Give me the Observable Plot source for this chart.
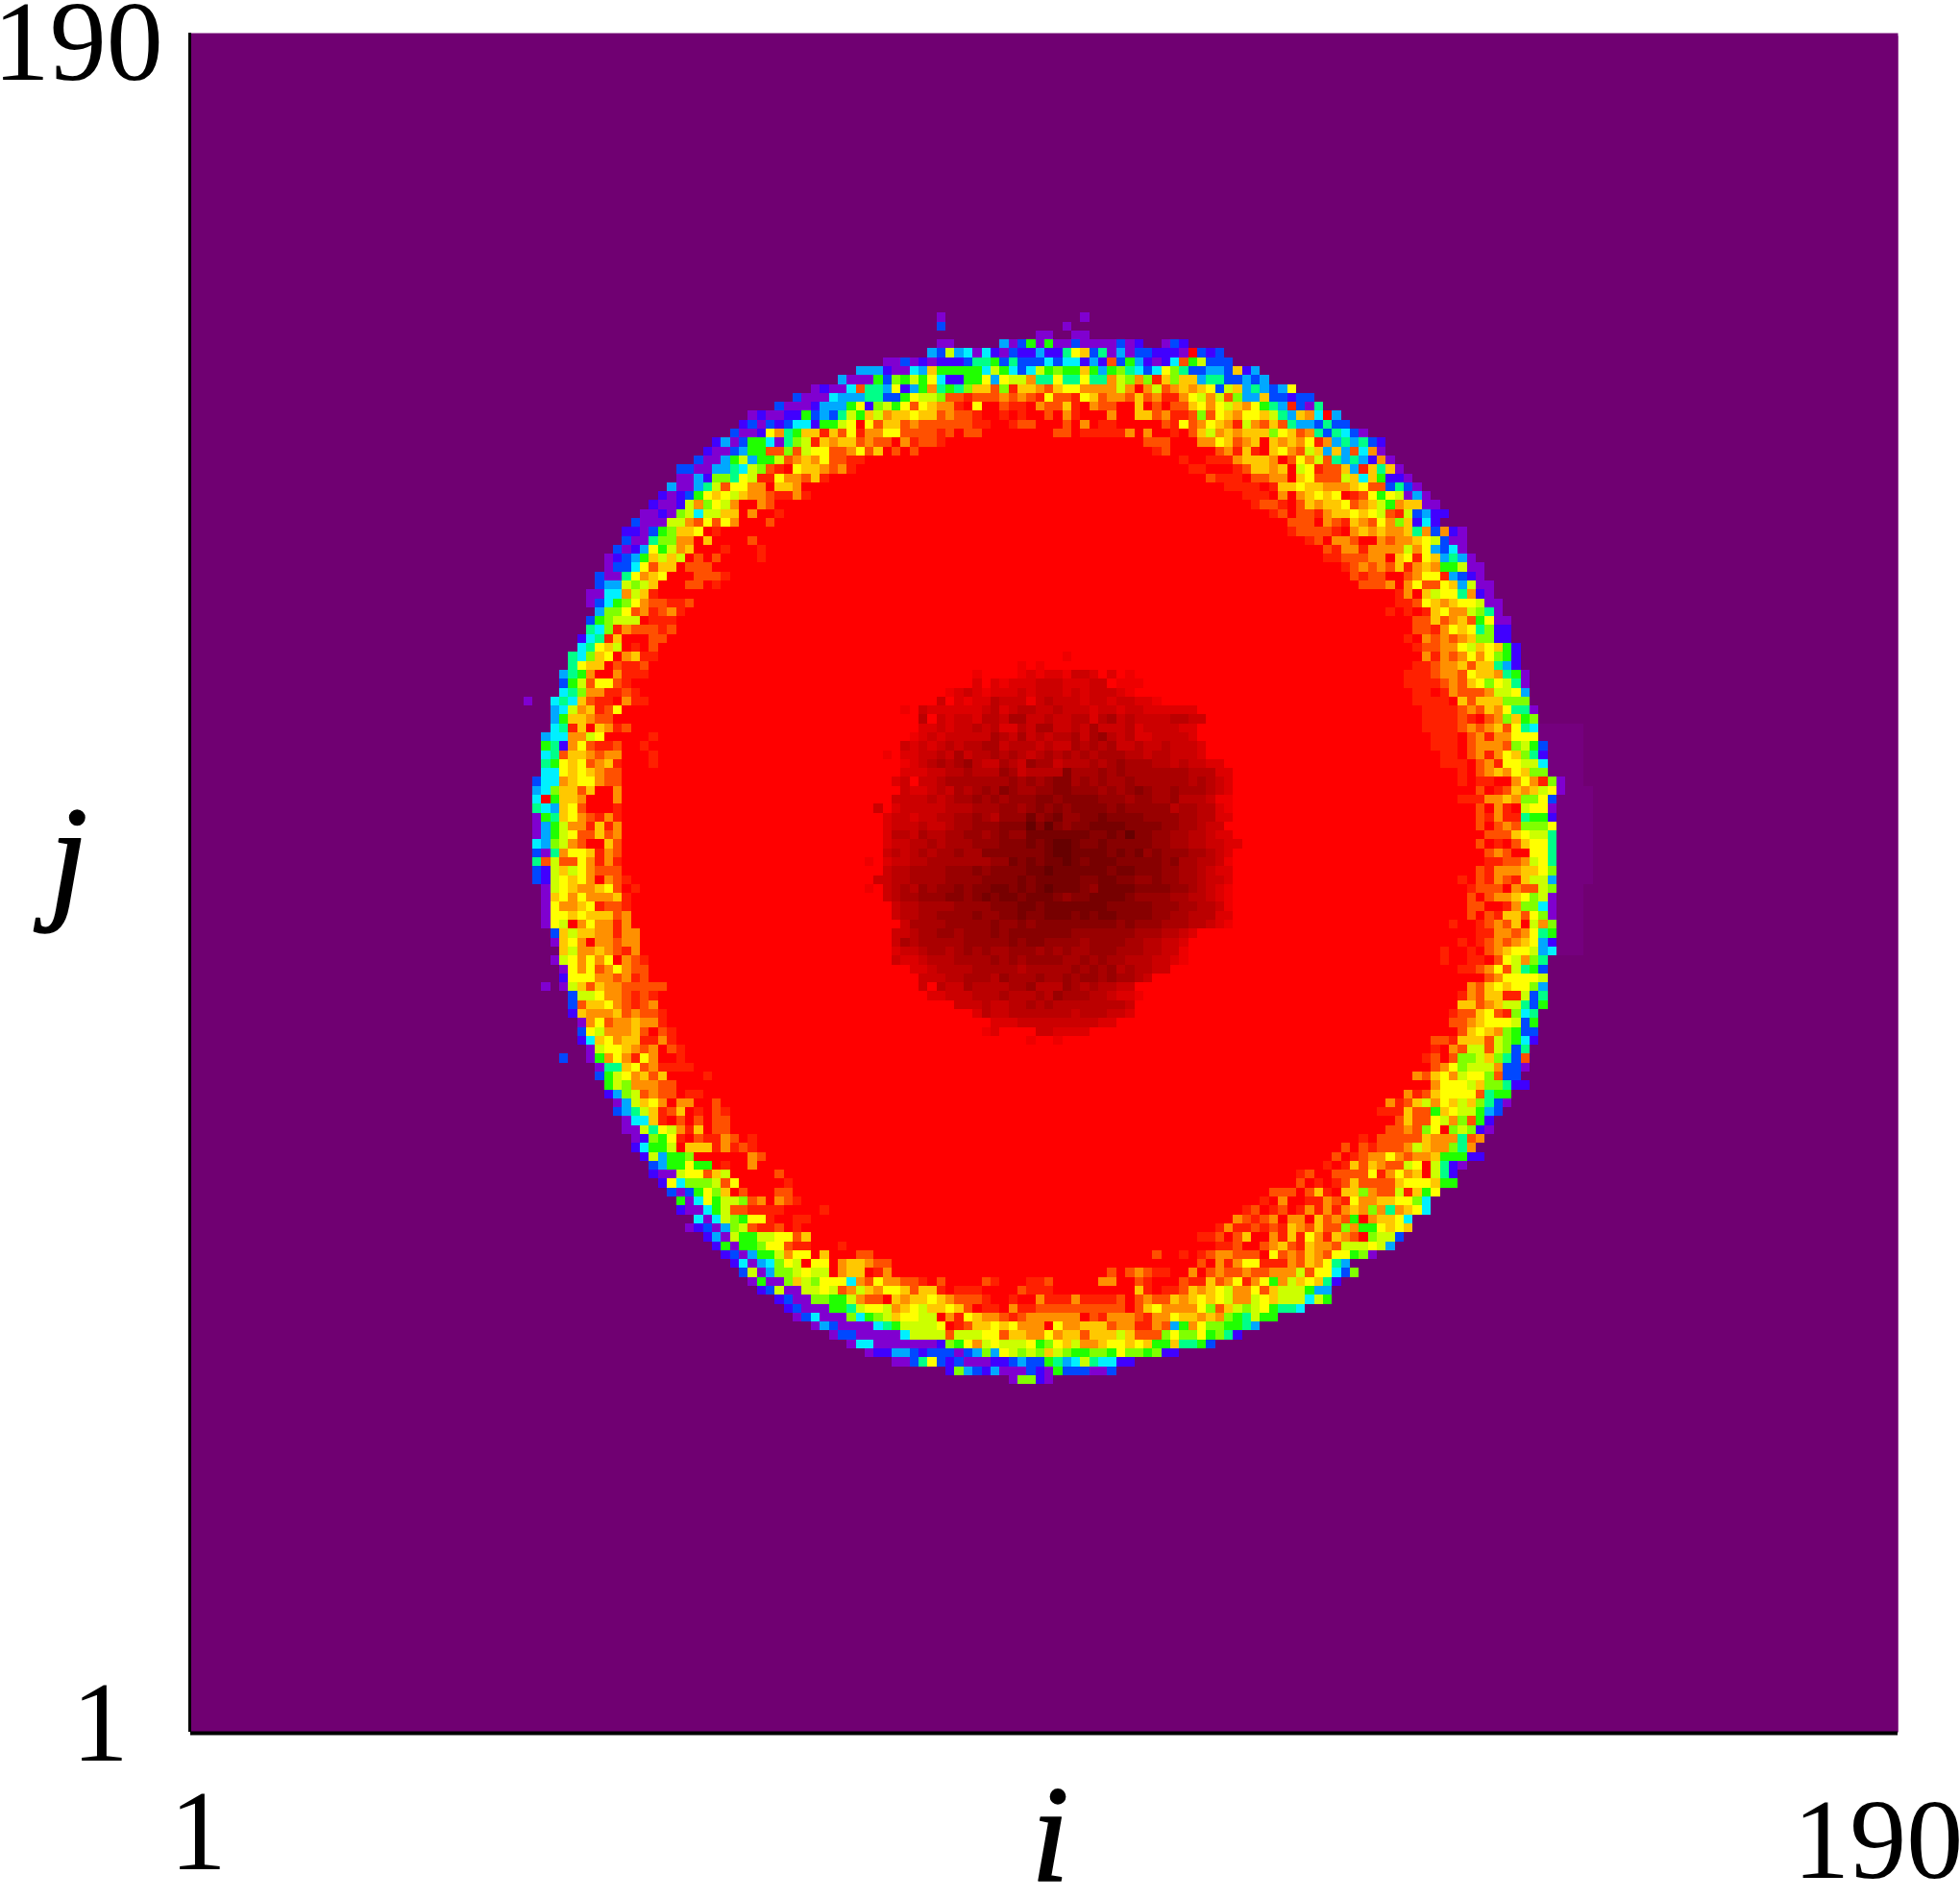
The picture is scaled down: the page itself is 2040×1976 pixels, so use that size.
<!DOCTYPE html>
<html><head><meta charset="utf-8">
<script src="https://cdn.jsdelivr.net/npm/d3@7"></script>
<script src="https://cdn.jsdelivr.net/npm/@observablehq/plot@0.6"></script>
<style>html,body{margin:0;padding:0;background:#fff}svg{display:block}</style>
</head><body><div id="chart"></div>
<script>
// Colour codes
const palette = {
  ".":"#700072", w:"#75007e", v:"#8000d0", u:"#4000ff", b:"#0048ff", a:"#00a8ff", c:"#00f0ff",
  t:"#00ff88", g:"#20ff00", l:"#80ff00", i:"#ccff00", y:"#ffff00", o:"#ffc800",
  n:"#ff9000", h:"#ff5000", e:"#ff2000", r:"#ff0000",
  0:"#ff0000",1:"#ee0000",2:"#dd0000",3:"#cc0000",4:"#bb0000",5:"#aa0000",6:"#990000",7:"#880000",8:"#770000",9:"#660000"
};
const xTicks = [1, 190], yTicks = [1, 190];
// Isolated cells outside the ring: [row from top, column, codes]
const strays = [[32,83,"v"],[33,83,"b"],[32,99,"v"],[33,97,"v"],[34,94,"vv"],[34,98,"vv"],[35,83,"vv"],[35,90,"avbgvgvvbvvvvbvu"],[35,108,"vbu"],[75,37,"v"],[107,39,"v"],[115,41,"b"]];
// Left half of the ring, row by row: [row, first column, codes]
const ringLeft = [
[36,82,"abiacvcuvbuuau"],[37,77,"vvbvuvuuubttgbtbbbc"],[38,74,"aaauvvcaogggggcigcbcig"],[39,72,"avvvgblgigycuuggyayiintt"],
[40,69,"vuvvchttayuagntgtloohleoonh"],[41,67,"bvvvcaaattbbgyiilhhehhhnhnhey"],[42,65,"bvvvuaaagyuligyhyonneryrrheerhhh"],
[43,62,"vuvvuugbabtigoinooyoohnhherrererrh"],[44,61,"ubvbubccuggiyryhoohnhhhhhheerrehhrrr"],[45,60,"bvvuyntgooeohyennyyhhhhehrhhrrrrrrh"],
[46,58,"uavbggcvtlieonoohnhhrnehhe"],[47,57,"uvvbagghhlhiyyhhnyhorhrh"],[48,56,"bvvagiaggihnonyhhee"],[49,54,"bbvvaatcilheryoonhne"],
[50,54,"vvaulltyieeynnhoe"],[51,53,"avvatihyynnroon"],[52,52,"uvubgyoyionnheene"],[53,51,"uvvuinlyinrrnh"],[54,50,"vvuvliciioornrre"],
[55,49,"bvvviinhyhynrrrh"],[56,48,"uuvbglooyre"],[57,48,"bvvtllnnrorrrrh"],[58,47,"bvuayginorrrerrre"],[59,46,"vubagoioirhrhrrrre"],
[60,46,"vbbcyhoorhhh"],[61,45,"bvvtynoyrrrhhhe"],[62,45,"baailiorrrhhre"],[63,44,"vvccnioe"],[64,44,"vbcglynhheeh"],[65,45,"allyhnehne"],
[66,44,"bgliiireee"],[67,44,"tclenhhheh"],[68,43,"ucteorrrhh"],[69,43,"ctyoirerh"],[70,42,"tcloyrnoee"],[71,42,"tyoorheeh"],[72,41,"atgnrrneee"],
[73,41,"bgihyyhe"],[74,41,"ctlnneehe"],[75,40,"ctcoheernee"],[76,40,"acinoehy"],[77,40,"agoonhh"],[78,40,"cteoroneh"],[79,39,"accnniyrrrrre"],
[80,39,"gtunyheehrre"],[81,39,"cthoonhnnrrre"],[82,39,"tgyoyhnoerrre"],[83,39,"ccyoyonhh"],[84,38,"bccnoyynhh"],[85,38,"acloohorrn"],
[86,38,"crgoonrrrn"],[87,38,"tcaoyhrrre"],[88,38,"vgtoynhene"],[89,38,"vaginneoen"],[90,38,"vagiyhhohn"],[91,38,"calinhrroh"],[92,38,"bvtnyyoenh"],
[93,38,"thihhynene"],[94,38,"buioiynhhh"],[95,38,"buiyoynrnhe"],[96,39,"viyonnoyhre"],[97,39,"voynynnnoe"],[98,39,"vynnoyehhe"],[99,39,"vyyoyooohn"],
[100,39,"vyirnynnen"],[101,40,"boioonnenn"],[102,40,"voynrnnhnn"],[103,41,"oinnonhen"],[104,40,"viynynyrnhe"],[105,41,"vynyhnynhh"],[106,41,"uyyynnhneh"],
[107,41,"viohonnhhhhh"],[108,42,"biiynnhehe"],[109,42,"bhooynhehn"],[110,42,"uonnnohnhhe"],[111,43,"vnyhnnonne"],[112,43,"byinnnohrhe"],[113,43,"ucoynooeene"],
[114,44,"viyyonhnrhe"],[115,44,"vgnyneynrre"],[116,45,"vttoyhneeee"],[117,45,"bgiynohorrrre"],[118,46,"gilnnnhh"],[119,46,"ualihnhhree"],
[120,47,"vaioynrnnrrh"],[121,47,"batioehorerhe"],[122,48,"vccoerhrhrhh"],[123,48,"vvityineorhh"],[124,49,"vulgyerheenhre"],[125,49,"ucggiroooenehe"],
[126,50,"uiagglrrrrrrnh"],[127,51,"baggyggrerrn"],[128,51,"uvviyyhoirrrrrh"],[129,52,"uyclllihyrrrrre"],[130,53,"bvbgylorhrrrhh"],[131,54,"gvcygiilhnrnhe"],
[132,54,"uvvcgihheeeerrrre"],[133,56,"cvcilgyyerree"],[134,55,"vubvaliheehrer"],[135,57,"uaviggiiyyho"],[136,58,"ugvgglyyheerrre"],[137,59,"ubvagginyyrorrrhh"],
[138,60,"ucvaclyiryyrnoonhh"],[139,61,"bivalliyiirnooren"],[140,62,"vgvvloilyyycnhynnhherhrrrrherrreh"],[141,63,"ubivviiyihnionyyohooereeerrrrheee"],
[142,65,"ubvvllgginhhronooyonhhherrerrrrne"],[143,66,"ubvvvggtiyyinoyiooyohreerneehh"],[144,67,"vbcvvvlcglioyyiirneyonnhehnnn"],
[145,69,"vabvvvvctgiiiiyrehooyoynnnr"],[146,71,"vbbvvvvvciiiihiiiyyhoonny"],[147,73,"vccvvvvvvvulgyniyiiiygl"],[148,75,"vuuaabubbbvbalayililo"],
[149,78,"vvbtybubvvvuubabbg"],[150,84,"ulabuavvvbuv"],[151,91,"vllbv"]];
// Right half of the ring, row by row: [row, first column, codes]
const ringRight = [
[36,94,"auutyobtvavbbuuuv.bub"],[37,94,"bcbccuauhbgauvuchgibbb"],[38,94,"iglggogagltcbcyltbbaaboua"],[39,94,"ttyttyttnilnleolooattbbaba"],
[40,94,"nhoyynnnninrnihnonoybioatabay"],[41,94,"eyhheyohnnhohneenyinihlaaobbubb"],[42,94,"nhhoernhhrrorhrhhoynyionygtaebvt"],
[43,94,"rhrnerrrnrroohneehlhyonyyoitaoncra"],[44,94,"rrrhrnreerrrrrheyhnyoneinhohtaabtbb"],[45,94,"rrhhreeeeenrnrrerhoinonooolyohntbtcbv"],
[46,106,"hhhrrrnnyohnorononyenatatbu"],[47,107,"ehrrrrrhneoeroynhioaoahcnv"],[48,110,"erreeenooonrhynihtataunv"],[49,111,"eerrrehoonoriyehhoaeotov"],
[50,113,"heeerhhnnroyhhhiocoguuv"],[51,115,"eeeereooyoonnnoyhhbtbv"],[52,117,"eeernrnoyoyrehygyivav"],[53,118,"ehherhonooyhnoignoovv"],[54,120,"ehrhhenooyoyiheibauu"],
[55,122,"hhhrnheonhynloucu"],[56,122,"ehhhhernononnotnbnuv"],[57,124,"ehrnnhrrnhnnoyibvv"],[58,126,"hennennnninyabcv"],[59,126,"eehhhnnroyeyoatav"],
[60,128,"ehnhnhoenonggivv"],[61,129,"hehhrrhnyyeabuv"],[62,130,"hhhnrnyhhyoaivv"],[63,134,"enroiyytnuv"],[64,134,"eehyonoyyivv"],[65,133,"erereoynniltv"],
[66,136,"hhohnohgyvv"],[67,136,"hhenyoytluu"],[68,135,"ernhnhnolluu"],[69,136,"ehhnnyioyogu"],[70,137,"nenhnynylgu"],[71,136,"eehnnohootau"],
[72,135,"eeehnnhyoontgv"],[73,135,"eeeehnhoylyitv"],[74,136,"eerenhhhniiya"],[75,136,"eeeerohooolll"],[76,137,"eeeehnhonyttv"],[77,137,"eeeeherhnlogl"],
[78,137,"eeeehnhnohytc"],[79,138,"eeerhnennyyy"],[80,138,"eeerhnnnhligb"],[81,139,"eerhnenyoltu"],[82,139,"eeerhneyyiic"],[83,141,"erhnonyoll"],
[84,141,"ereerrnynelv"],[85,143,"hrehonoiyv"],[86,141,"eeennonllyb"],[87,143,"hrneriyyv"],[88,143,"heneetggu"],[89,143,"hrhnhllly"],[90,144,"hhhoyiit"],
[91,143,"hrerhoyyt"],[92,144,"hnhrryyt"],[93,144,"eehhniyt"],[94,143,"hennnooyl"],[95,141,"erhenheoiia"],[96,142,"ehhhrnhhil"],[97,142,"hrhnnoyliv"],[98,142,"hhrrenllcv"],
[99,142,"hrheoohylv"],[100,140,"errehnhorinl"],[101,143,"eennhnytg"],[102,141,"erehnhnoyau"],[103,139,"errerhnoyyiac"],[104,139,"erreerhyinlt"],[105,141,"eehnyhitgb"],
[106,144,"hnyyyyi"],[107,142,"nhoyoyyla"],[108,141,"enhooeeibt"],[109,141,"oohnoiitbg"],[110,140,"ehhoyhelct"],[111,140,"hhnoyyyibg"],[112,141,"hoyonlgbb"],[113,138,"hheooohilgcu"],
[114,138,"ernhiihilbt"],[115,137,"ehrhllioltbh"],[116,138,"hnyliiinbbv"],[117,136,"nhoyniyylhbb"],[118,138,"nyyyiolltuu"],[119,135,"nehoyyyyhtgg"],[120,133,"nehoinyoioltbv"],
[121,132,"eeeohhgoyiigab"],[122,134,"hohhyinlhgu"],[123,133,"hhnhlyrliluv"],[124,130,"erhhhhhonnnthn"],[125,128,"hrhehhhnionnltn"],[126,127,"hrehnnynhnnoggguu"],
[127,126,"ereohonhhiyrituv"],[128,123,"ehrrhhhhyenynoritu"],[129,123,"hrerehohhhhoyyyogg"],[130,120,"hhhrhoeroolnhhieogy"],[131,119,"ernrreenheynnooyylc"],
[132,117,"ehrehrenenenonlntnoyc"],[133,116,"nhehnrnnrohnhgrnooyc"],[134,114,"eneeheheonhohhlnggyoyo"],
[135,112,"eehrhorrneoeyneonhrliib"],[136,114,"eehrrhnoheonnhiiiyia"],[137,107,"hrrerehnnhhhryhnhonhyyglv"],[138,112,"hrnenyyeeenhonyta"],
[139,102,"hrhnheerrnrhnhhnhhnnnihyycbl"],[140,94,"ehrrrrrnnrrherrrheeohnyenygnioyotu"],[141,105,"oereehonoyinnyhoiiigaa"],[142,94,"neeeneeeehrhnhhonoyoyinniyoiiicig"],
[143,94,"hhhhhhhhhhrhoynnnnylhoiliygttc"],[144,94,"nnnnnrhennnhennyoononlgtigg"],[145,94,"nrynnooohnneenhagnyllggta"],[146,94,"nynoohoooiohhhlyllygltu"],
[147,94,"glyoinnoyyoyoggottgb"],[148,94,"loilggllgyllgluu"],[149,94,"bgtacitccuu"],[150,94,"uvgbbbvvb"],[151,94,"uv"]];
// Dark centre, row by row: digit = darkness
const coreFirstRow = 70, coreFirstCol = 75;
const core = [
"0000000000000000000000100000","00000000000000000101","000000000000100001212213320201","000000000000202122233322233011100",
"000000000123212223233323233321","000000003021224333134333233233221","0000103222222342344334333233233222222","000000403233244355334334424534333344330",
"0000002232334342243553343533342333322","0000012323333354353434453564342233332","00003232343445534443433545453343343332","00102233435344545434545454555443443332",
"0000123454564335436553444545655544343322","00002223344544465344447555656555555544422","00023033455555556565677565655655555545432","00003223435456576556677666565676556555432",
"00033334345565656667767777666566556444311","03023333344455566567676777767666664554421","00233233445565466686786677877776666554422","00233343345566677797976778888777766554330",
"00244354455665676688888887787977665544322","002334454555666777878998778777776655443322","00343454556557777777899888878786766655432","10233445555555668787889878887777767554431",
"00344555566676777788988888878877766554322","03344555566667777878888877887766766554332","10345465667677887878988876888877776654321","00345566677678788788876778888766665544321",
"00034455556666777887888888877777666554431","00034455666676677877888787887777665544422","00003555566666766767777777776766655544321","0003345566566676777777766666665554432",
"000354555556666676776666566665544332","000233455456565566656565566655544331","000322344455556565666655656554443321","0000022344445555545555565656454433",
"00000033344555465556556566565543","000000304335444455644465454433","0000000223334445444546555443221","000000000033343344545444444443",
"000000000000243344444443444332","0000000000000022233333333322","00000000000001200003322220","000000000000000000100100"];
// Faint halo right of the ring: [first row, last row, last column]
const halo = [[78,84,154],[85,95,155],[96,103,154]];

const N = 190;
const rowOffset = -1; // rows were counted one too low
const grid = new Array(N*N).fill(".");
const put = (r,c,s) => { for (let k=0;k<s.length;k++) if (s[k]!==".") grid[(r+rowOffset)*N+c+k]=s[k]; };
const rightByRow = new Map(ringRight.map(d=>[d[0],d]));
const ends = new Map();
for (const [r,c,s] of ringLeft) {
  const R = rightByRow.get(r);
  const end = R ? R[1]+R[2].length : c+s.length;
  ends.set(r,end);
  for (let k=c;k<end;k++) grid[(r+rowOffset)*N+k]="r";
}
for (const [a,b,last] of halo) for (let r=a;r<=b;r++) for (let k=ends.get(r);k<=last;k++) grid[(r+rowOffset)*N+k]="w";
ringLeft.forEach(d=>put(...d)); ringRight.forEach(d=>put(...d)); strays.forEach(d=>put(...d));
core.forEach((s,i)=>put(coreFirstRow+i,coreFirstCol,s.replace(/0/g,".")));

const serif = "'Liberation Serif','Times New Roman',serif";
const label = (text,x,y,dx,dy,extra={}) => Plot.text([text],{x:()=>x,y:()=>y,dx,dy,text:d=>d,fontSize:118,fontFamily:serif,fill:"#000",textAnchor:"middle",lineAnchor:"bottom",...extra});

const chart = Plot.plot({
  width:2040,height:1976,marginLeft:198,marginRight:65,marginTop:34,marginBottom:174,
  style:{background:"#fff",overflow:"visible"},
  x:{domain:[0.5,190.5],axis:null},y:{domain:[0.5,190.5],axis:null},color:{type:"identity"},
  marks:[
    Plot.frame({fill:palette["."],stroke:"none"}),
    Plot.raster(grid,{width:N,height:N,x1:0.5,x2:190.5,y1:190.2,y2:0.5,fill:d=>palette[d],imageRendering:"pixelated"}),
    Plot.ruleX([0.5],{stroke:"#000",strokeWidth:3,dx:-1}),
    Plot.ruleY([0.5],{stroke:"#000",strokeWidth:4,dy:1}),
    label(String(xTicks[0]),xTicks[0],yTicks[0],3,147),
    label(String(xTicks[1]),xTicks[1],yTicks[0],-16,156),
    label(String(yTicks[0]),xTicks[0],yTicks[0],-99,34),
    label(String(yTicks[1]),xTicks[0],yTicks[1],-122,44),
    label("i",97,yTicks[0],-8,159,{fontStyle:"italic",fontSize:144,stroke:"#000",strokeWidth:1.5}),
    label("j",xTicks[0],96,-132,26,{fontStyle:"italic",fontSize:146,stroke:"#000",strokeWidth:1.5})
  ]
});
document.getElementById("chart").append(chart);
</script></body></html>
